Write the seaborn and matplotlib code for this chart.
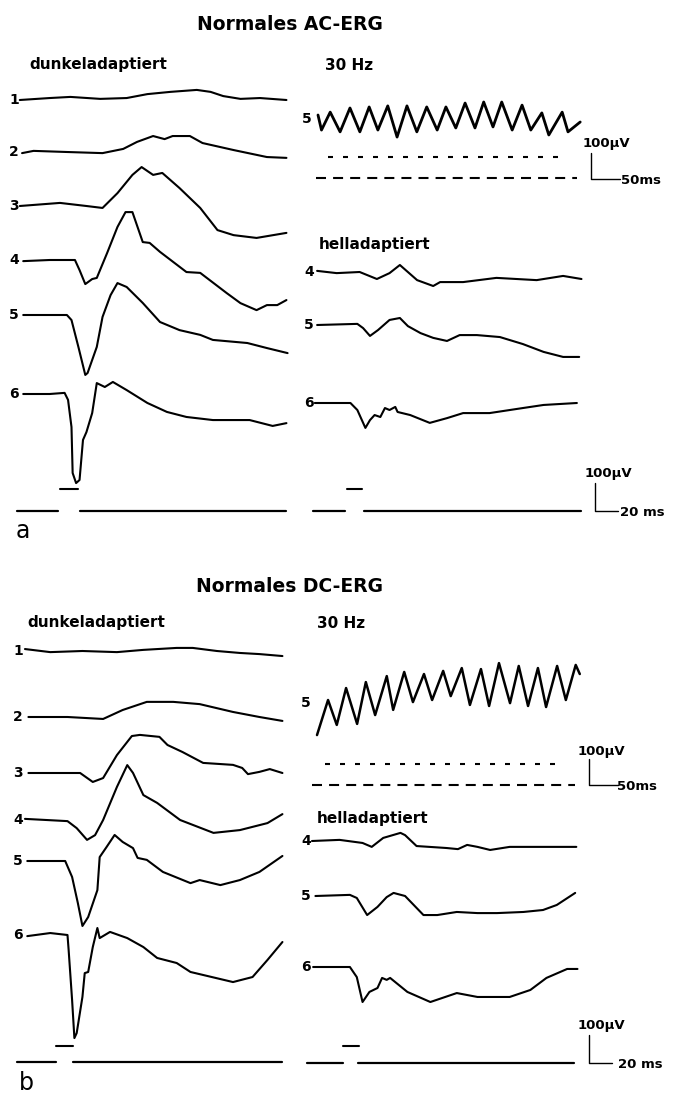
import matplotlib
matplotlib.use('Agg')
import matplotlib.pyplot as plt
import seaborn as sns

# ---- Werte (Zeit in ms ab Reiz, Amplitude in uV) ----

# a) AC-ERG, dunkeladaptiert, Stufen 1-6
A1_T = [-35, -9, 9, 35, 58, 76, 96, 119, 131, 142, 157, 174, 197]
A1_UV = [0, 7, 11, 4, 7, 21, 29, 36, 29, 14, 4, 7, 0]
A2_T = [-33, -23, 6, 37, 55, 67, 81, 91, 98, 113, 124, 151, 180, 197]
A2_UV = [-4, 4, 0, -4, 11, 36, 57, 46, 57, 57, 32, 7, -18, -21]
A3_T = [-35, 0, 23, 37, 50, 63, 71, 81, 89, 104, 122, 137, 151, 171, 197]
A3_UV = [0, 11, 0, -7, 46, 111, 139, 111, 118, 64, -7, -86, -104, -114, -96]
A4_T = [-32, -9, 13, 17, 22, 28, 32, 41, 50, 57, 63, 72, 78, 87, 110, 122, 145, 157, 171, 180, 189, 197]
A4_UV = [-4, 0, 0, -36, -86, -68, -64, 25, 118, 171, 171, 64, 61, 29, -43, -46, -118, -154, -179, -161, -161, -143]
A5_T = [-32, 6, 10, 16, 22, 24, 32, 37, 44, 50, 58, 72, 87, 104, 122, 133, 163, 180, 198]
A5_UV = [0, 0, -18, -114, -214, -207, -114, -7, 71, 114, 100, 43, -25, -54, -71, -89, -100, -118, -136]
A6_T = [-32, -9, 4, 7, 10, 11, 14, 17, 20, 23, 28, 32, 39, 46, 58, 76, 93, 110, 133, 165, 185, 197]
A6_UV = [0, 0, 4, -21, -118, -282, -318, -307, -164, -136, -68, 39, 25, 43, 14, -32, -64, -82, -93, -93, -114, -104]

# a) helladaptiert, Stufen 4-6
AL4_T = [-26, -9, 11, 26, 37, 46, 61, 75, 81, 101, 130, 165, 188, 204]
AL4_UV = [4, -4, 0, -25, -4, 25, -29, -50, -36, -36, -21, -29, -14, -25]
AL5_T = [-26, 9, 14, 20, 27, 37, 46, 53, 64, 75, 87, 98, 113, 133, 153, 171, 188, 202]
AL5_UV = [0, 4, -11, -39, -18, 18, 25, -4, -29, -46, -57, -36, -36, -43, -68, -96, -114, -114]
AL6_T = [-28, 3, 9, 16, 20, 24, 29, 33, 37, 42, 44, 55, 72, 87, 101, 124, 153, 171, 200]
AL6_UV = [0, 0, -25, -89, -61, -43, -50, -18, -25, -14, -32, -43, -71, -54, -36, -36, -18, -7, 0]

# a) 30 Hz Flimmer
A30_T = [0, 6, 21, 38, 55, 72, 88, 103, 120, 136, 153, 170, 187, 205, 220, 237, 253, 270, 285, 301,
         316, 334, 351, 366, 385, 397, 420, 430, 451]
A30_UV = [27, -31, 38, -38, 54, -38, 58, -31, 62, -58, 62, -38, 58, -31, 58, -23, 73, -23, 77, -19,
          77, -31, 65, -31, 35, -50, 38, -38, 0]

# b) DC-ERG, dunkeladaptiert
B1_T = [-27, -5, 23, 53, 76, 105, 119, 140, 160, 177, 197]
B1_UV = [7, -4, 0, -4, 4, 11, 11, 0, -7, -11, -18]
B2_T = [-24, 10, 41, 58, 79, 102, 125, 154, 177, 197]
B2_UV = [0, 0, -7, 25, 54, 54, 46, 18, 0, -14]
B3_T = [-24, 21, 32, 41, 53, 66, 73, 90, 97, 110, 128, 154, 162, 167, 177, 186, 197]
B3_UV = [0, 0, -32, -18, 64, 132, 136, 129, 100, 75, 36, 29, 18, -4, 4, 14, 0]
B4_T = [-27, 10, 18, 27, 34, 41, 53, 62, 67, 76, 88, 108, 137, 160, 184, 197]
B4_UV = [4, -4, -29, -71, -54, 0, 118, 196, 168, 89, 61, 0, -46, -36, -11, 21]
B5_T = [-25, 8, 14, 19, 23, 28, 36, 38, 44, 51, 58, 67, 71, 79, 93, 117, 125, 143, 160, 177, 197]
B5_UV = [0, 0, -57, -150, -232, -200, -104, 14, 50, 93, 68, 46, 11, 4, -39, -79, -68, -86, -68, -39, 18]
B6_T = [-25, -5, 10, 11, 14, 16, 18, 23, 25, 28, 32, 36, 38, 47, 62, 76, 88, 105, 117, 154, 171, 184, 197]
B6_UV = [-4, 7, 0, -54, -232, -368, -350, -221, -136, -132, -43, 25, -11, 11, -11, -43, -82, -100, -132,
         -168, -150, -89, -25]

# b) helladaptiert
BL4_T = [-27, -3, 17, 25, 35, 50, 54, 64, 90, 100, 108, 117, 128, 145, 174, 203]
BL4_UV = [0, 4, -7, -21, 11, 29, 21, -18, -25, -29, -14, -21, -32, -21, -21, -21]
BL5_T = [-24, 6, 12, 21, 30, 38, 44, 54, 70, 82, 99, 117, 134, 157, 174, 186, 202]
BL5_UV = [0, 4, -7, -68, -39, -4, 11, 0, -68, -68, -57, -61, -61, -57, -50, -32, 11]
BL6_T = [-26, 6, 12, 17, 23, 30, 34, 38, 41, 56, 76, 99, 117, 145, 163, 177, 195, 204]
BL6_UV = [0, 0, -36, -125, -89, -75, -39, -46, -39, -89, -125, -93, -107, -107, -82, -39, -7, -7]

# b) 30 Hz
B30_T = [0, 19, 34, 50, 69, 84, 100, 120, 131, 150, 165, 184, 198, 217, 230, 249, 263, 282, 296, 313,
         332, 347, 363, 380, 394, 413, 428, 445, 452]
B30_UV = [-135, 0, -96, 46, -92, 69, -58, 92, -38, 108, -8, 100, 0, 112, 15, 123, -19, 119, -23, 142,
          -12, 131, -23, 123, -27, 131, 0, 135, 100]

# Reizmarken (ms): Lichtreiz an, Grundlinie davor/danach
A_DARK_STIM = [0, 16]
A_DARK_LINE = [(-37, -2), (17, 197)]
A_LIGHT_STIM = [0, 13]
A_LIGHT_LINE = [(-30, -2), (15, 204)]
B_DARK_STIM = [0, 15]
B_DARK_LINE = [(-34, 0), (15, 197)]
B_LIGHT_STIM = [0, 14]
B_LIGHT_LINE = [(-31, 0), (13, 201)]
A30_FLASH = [(17, 428), (-3, 445)]
B30_FLASH = [(14, 421), (-9, 444)]

# Eichmarken
SCALE_UV = 100
SCALE_MS = 20
SCALE_MS_30 = 50

# ---- Layout (Pixel) ----
W, H = 684, 1097
MS_PER_PX = 0.87
UV_PER_PX = 3.57
MS_PER_PX_30 = 1.72
UV_PER_PX_30 = 3.85

sns.set_theme(style='white')
plt.rcParams['font.family'] = ['DejaVu Sans']
plt.rcParams['text.color'] = 'black'

fig = plt.figure(figsize=(W / 100, H / 100), dpi=100)
bg = fig.add_axes([0, 0, 1, 1])
bg.set_xlim(0, W)
bg.set_ylim(H, 0)
bg.axis('off')


def panel_ax(x0, y0, ms_px=MS_PER_PX, uv_px=UV_PER_PX):
    # eigene Achse: t=0 liegt bei x0, 0 uV bei y0 (Pixel von oben)
    ax = fig.add_axes([0, 0, 1, 1])
    ax.set_xlim(-x0 * ms_px, (W - x0) * ms_px)
    ax.set_ylim(-(H - y0) * uv_px, y0 * uv_px)
    ax.axis('off')
    return ax


def trace(t, uv, x0, y0, lw=1.5, **kw):
    ax = panel_ax(x0, y0, **kw)
    sns.lineplot(x=t, y=uv, ax=ax, color='black', linewidth=lw, sort=False, estimator=None)
    ax.axis('off')


def stim(on, line, x0, y_on, y_line):
    ax = panel_ax(x0, y_on)
    ax.plot(on, [0, 0], color='black', lw=1.5)
    ax = panel_ax(x0, y_line)
    for a, b in line:
        ax.plot([a, b], [0, 0], color='black', lw=1.6)


def scalebar(x0, y0, ms, ms_px, uv_px, lab_ms, ly_uv, lx_uv, lx_ms):
    ax = panel_ax(x0, y0, ms_px, uv_px)
    ax.plot([0, 0, ms], [SCALE_UV, 0, 0], color='black', lw=1.0)
    bg.text(lx_uv, ly_uv, '100µV', fontsize=9.5, fontweight='bold', ha='left', va='center')
    bg.text(lx_ms, y0 + 1, lab_ms, fontsize=9.5, fontweight='bold', ha='left', va='center')


def flashes(rows, x0, ys):
    patterns = [(2.4, 4.8), (4.8, 3.4)]
    for (a, b), y, dsh in zip(rows, ys, patterns):
        ax = panel_ax(x0, y, MS_PER_PX_30, UV_PER_PX_30)
        ax.plot([a, b], [0, 0], color='black', lw=1.5, dashes=dsh)


def labels(names, x, ys):
    for n, y in zip(names, ys):
        bg.text(x, y, n, fontsize=10, fontweight='bold', ha='right', va='center')


hd = dict(fontsize=11, fontweight='bold', ha='left', va='center')

# ---------- a ----------
bg.text(290, 25, 'Normales AC-ERG', fontsize=13.5, fontweight='bold', ha='center', va='center')
bg.text(29, 65, 'dunkeladaptiert', **hd)
bg.text(325, 65, '30 Hz', **hd)
bg.text(319, 245, 'helladaptiert', **hd)

a_dark_base = [100, 152, 206, 260, 315, 394]
for (t, v), y in zip([(A1_T, A1_UV), (A2_T, A2_UV), (A3_T, A3_UV), (A4_T, A4_UV),
                      (A5_T, A5_UV), (A6_T, A6_UV)], a_dark_base):
    trace(t, v, 60, y)
labels(['1', '2', '3', '4', '5', '6'], 19, a_dark_base)

a_light_base = [272, 325, 403]
for (t, v), y in zip([(AL4_T, AL4_UV), (AL5_T, AL5_UV), (AL6_T, AL6_UV)], a_light_base):
    trace(t, v, 347, y)
labels(['4', '5', '6'], 314, a_light_base)

trace(A30_T, A30_UV, 318, 122, lw=2.0, ms_px=MS_PER_PX_30, uv_px=UV_PER_PX_30)
labels(['5'], 312, [119])
flashes(A30_FLASH, 318, [157, 178])
scalebar(591, 179, SCALE_MS_30, MS_PER_PX_30, UV_PER_PX_30, '50ms', 143, 583, 621)

stim(A_DARK_STIM, A_DARK_LINE, 60, 489, 511)
stim(A_LIGHT_STIM, A_LIGHT_LINE, 347, 489, 511)
scalebar(595, 511, SCALE_MS, MS_PER_PX, UV_PER_PX, '20 ms', 473, 585, 620)
bg.text(16, 531, 'a', fontsize=17, ha='left', va='center')

# ---------- b ----------
bg.text(290, 587, 'Normales DC-ERG', fontsize=13.5, fontweight='bold', ha='center', va='center')
bg.text(27, 623, 'dunkeladaptiert', **hd)
bg.text(317, 623, '30 Hz', **hd)
bg.text(317, 818, 'helladaptiert', **hd)

b_dark_base = [651, 717, 773, 820, 861, 935]
for (t, v), y in zip([(B1_T, B1_UV), (B2_T, B2_UV), (B3_T, B3_UV), (B4_T, B4_UV),
                      (B5_T, B5_UV), (B6_T, B6_UV)], b_dark_base):
    trace(t, v, 56, y)
labels(['1', '2', '3', '4', '5', '6'], 23, b_dark_base)

b_light_base = [841, 896, 967]
for (t, v), y in zip([(BL4_T, BL4_UV), (BL5_T, BL5_UV), (BL6_T, BL6_UV)], b_light_base):
    trace(t, v, 343, y)
labels(['4', '5', '6'], 311, b_light_base)

trace(B30_T, B30_UV, 317, 700, lw=1.8, ms_px=MS_PER_PX_30, uv_px=UV_PER_PX_30)
labels(['5'], 311, [703])
flashes(B30_FLASH, 317, [764, 785])
scalebar(589, 785, SCALE_MS_30, MS_PER_PX_30, UV_PER_PX_30, '50ms', 752, 578, 617)

stim(B_DARK_STIM, B_DARK_LINE, 56, 1046, 1062)
stim(B_LIGHT_STIM, B_LIGHT_LINE, 343, 1046, 1063)
scalebar(589, 1063, SCALE_MS, MS_PER_PX, UV_PER_PX, '20 ms', 1026, 578, 618)
bg.text(19, 1083, 'b', fontsize=17, ha='left', va='center')

fig.savefig('out.png', dpi=100)
